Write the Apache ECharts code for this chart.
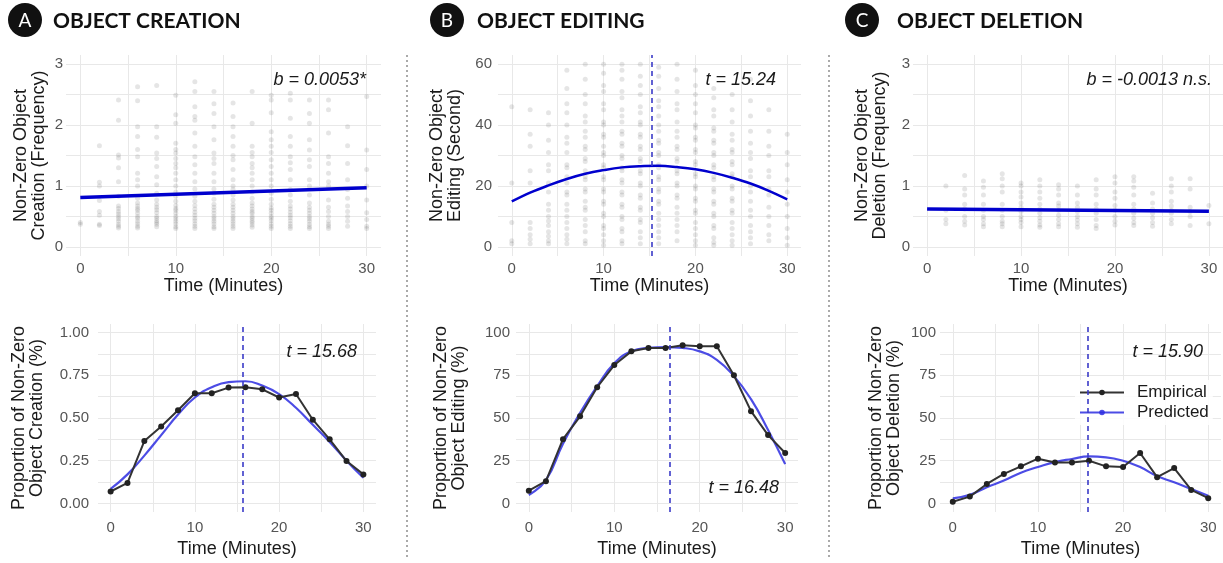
<!DOCTYPE html>
<html>
<head>
<meta charset="utf-8">
<script src="https://cdn.jsdelivr.net/npm/echarts@6/dist/echarts.min.js"></script>
<style>
html, body { margin: 0; padding: 0; background: #fff; }
#chart { width: 1223px; height: 563px; }
</style>
</head>
<body>
<div id="chart"></div>
<script>
// time points (minutes)
const times = [0, 2, 4, 6, 8, 10, 12, 14, 16, 18, 20, 22, 24, 26, 28, 30];

// top row: non-zero observations, one list per time point
const creationDots = [
  [0.37, 0.4],
  [1.66, 1.06, 1.0, 0.76, 0.58, 0.52, 0.37, 0.35],
  [2.41, 2.08, 1.51, 1.46, 1.3, 1.07, 0.83, 0.67, 0.63, 0.58, 0.54, 0.5, 0.46, 0.42, 0.37, 0.34, 0.31],
  [2.63, 2.4, 1.97, 1.81, 1.6, 1.48, 1.21, 1.1, 1.0, 0.8, 0.72, 0.67, 0.63, 0.6, 0.55, 0.5, 0.47, 0.42, 0.38, 0.34, 0.31],
  [2.65, 1.97, 1.8, 1.54, 1.45, 1.32, 1.15, 1.02, 0.88, 0.77, 0.7, 0.65, 0.61, 0.56, 0.5, 0.47, 0.43, 0.4, 0.37, 0.33],
  [2.49, 2.17, 2.03, 1.7, 1.6, 1.54, 1.45, 1.37, 1.3, 1.21, 1.1, 1.0, 0.9, 0.83, 0.75, 0.68, 0.63, 0.6, 0.55, 0.5, 0.46, 0.42, 0.38, 0.33, 0.3],
  [2.71, 2.55, 2.3, 2.14, 2.08, 1.87, 1.65, 1.48, 1.35, 1.21, 1.07, 0.95, 0.83, 0.75, 0.68, 0.62, 0.57, 0.52, 0.47, 0.43, 0.38, 0.34, 0.3],
  [2.55, 2.35, 2.19, 1.97, 1.76, 1.54, 1.45, 1.37, 1.21, 1.07, 0.95, 0.88, 0.78, 0.7, 0.65, 0.6, 0.55, 0.5, 0.46, 0.42, 0.38, 0.33, 0.3],
  [2.36, 2.14, 1.97, 1.81, 1.65, 1.5, 1.43, 1.27, 1.1, 1.0, 0.94, 0.85, 0.77, 0.7, 0.65, 0.6, 0.55, 0.5, 0.46, 0.42, 0.38, 0.34, 0.3],
  [2.55, 2.03, 1.65, 1.55, 1.48, 1.37, 1.3, 1.21, 1.1, 1.0, 0.9, 0.8, 0.72, 0.67, 0.62, 0.58, 0.55, 0.5, 0.47, 0.43, 0.4, 0.36, 0.32],
  [2.49, 2.41, 2.2, 1.89, 1.76, 1.65, 1.55, 1.43, 1.32, 1.21, 1.1, 1.0, 0.88, 0.78, 0.7, 0.64, 0.6, 0.55, 0.5, 0.47, 0.43, 0.38, 0.34, 0.3],
  [2.52, 2.41, 2.11, 1.81, 1.65, 1.48, 1.38, 1.27, 1.1, 0.94, 0.85, 0.75, 0.67, 0.62, 0.57, 0.52, 0.48, 0.43, 0.38, 0.34, 0.3],
  [2.41, 2.19, 2.03, 1.76, 1.59, 1.43, 1.32, 1.1, 1.0, 0.85, 0.72, 0.65, 0.6, 0.55, 0.5, 0.46, 0.42, 0.37, 0.33, 0.3],
  [2.41, 2.25, 1.87, 1.48, 1.37, 1.21, 1.07, 1.0, 0.77, 0.65, 0.58, 0.5, 0.42, 0.37, 0.34, 0.3],
  [1.97, 1.66, 1.37, 1.1, 0.94, 0.8, 0.67, 0.58, 0.5, 0.42, 0.34],
  [2.47, 1.59, 1.27, 1.0, 0.77, 0.56, 0.45, 0.34, 0.3]
];
const editingDots = [
  [46, 21, 8, 2, 1],
  [45, 37, 33, 25, 21, 8, 6, 4, 2.5, 1],
  [44, 40, 35, 31, 27, 25, 21, 18, 14, 12, 10, 8.5, 7, 5, 3.5, 2, 1],
  [58, 52, 47, 44, 40, 36, 34, 31, 27, 26, 23, 21, 18, 17, 14, 12, 10, 8, 6, 4, 2.5, 1],
  [60, 55, 50, 47, 43, 41, 38, 36, 33, 32, 29, 28, 25, 23, 22, 19, 18, 15, 13, 12, 9, 7, 5, 2, 1],
  [60, 57, 53, 51, 47, 45, 41, 40, 37, 36, 33, 31, 30, 27, 26, 23, 22, 19, 18, 15, 14, 11, 10, 7, 6, 4, 2, 0.5],
  [60, 58, 55, 51, 49, 45, 43, 41, 38, 37, 34, 33, 30, 29, 26, 25, 22, 21, 18, 17, 14, 13, 10, 9, 6, 5, 2, 1],
  [60, 56, 53, 50, 46, 44, 41, 40, 37, 36, 33, 32, 29, 28, 25, 24, 21, 20, 17, 16, 13, 12, 9, 8, 5, 3, 1],
  [59, 56, 52, 48, 46, 43, 40, 38, 35, 34, 31, 30, 27, 26, 23, 22, 19, 18, 15, 14, 11, 9, 7, 5, 3, 1],
  [60, 55, 51, 47, 45, 41, 38, 36, 33, 32, 29, 28, 25, 24, 21, 20, 17, 16, 13, 11, 9, 7, 5, 2],
  [58, 53, 50, 47, 44, 40, 39, 36, 35, 32, 31, 28, 27, 24, 23, 20, 19, 16, 15, 12, 11, 8, 6, 4, 2, 0.5],
  [52, 49, 45, 43, 39, 38, 35, 34, 31, 30, 27, 26, 23, 22, 19, 18, 15, 14, 11, 10, 7, 6, 3, 1.5, 0.5],
  [50, 45, 41, 37, 35, 32, 31, 28, 27, 24, 23, 20, 19, 16, 15, 12, 11, 8, 6, 4, 2, 0.5],
  [55, 48, 43, 38, 34, 31, 29, 25, 23, 20, 18, 15, 12, 10, 7, 5, 3, 1],
  [45, 38, 33, 30, 25, 23, 19, 17, 13, 10, 7, 4, 2],
  [37, 31, 27, 22, 18, 14, 10, 6, 3, 0.5]
];
const deletionDots = [
  [],
  [1.0, 0.6, 0.45, 0.38],
  [1.17, 0.95, 0.85, 0.7, 0.62, 0.5, 0.42, 0.36],
  [1.08, 0.98, 0.85, 0.7, 0.6, 0.5, 0.45, 0.38, 0.33],
  [1.2, 1.12, 1.0, 0.9, 0.7, 0.6, 0.5, 0.42, 0.38, 0.33],
  [1.05, 1.0, 0.9, 0.82, 0.72, 0.65, 0.58, 0.5, 0.45, 0.4, 0.33],
  [1.1, 1.0, 0.9, 0.8, 0.7, 0.62, 0.55, 0.48, 0.42, 0.36, 0.32],
  [1.02, 0.95, 0.85, 0.72, 0.67, 0.6, 0.52, 0.45, 0.38, 0.33],
  [1.0, 0.85, 0.72, 0.65, 0.58, 0.5, 0.44, 0.38, 0.32],
  [1.1, 0.95, 0.85, 0.7, 0.62, 0.55, 0.45, 0.35, 0.3],
  [1.15, 1.05, 0.9, 0.8, 0.68, 0.6, 0.5, 0.42, 0.36],
  [1.15, 1.08, 0.98, 0.85, 0.7, 0.62, 0.55, 0.47, 0.4, 0.35],
  [0.88, 0.72, 0.62, 0.55, 0.48, 0.4, 0.34],
  [1.12, 1.0, 0.9, 0.75, 0.67, 0.6, 0.55, 0.45, 0.38],
  [1.12, 0.95, 0.65, 0.58, 0.5, 0.35],
  [0.68, 0.38]
];

// top row: fitted models
const fitEnds = [0, 30];
const creationFit = [0.81, 0.97];
const deletionFit = [0.62, 0.585];
const editingFit = [14.9, 17.8, 20.2, 22.3, 24.0, 25.2, 26.1, 26.5, 26.6, 26.2, 25.5, 24.3, 22.7, 20.8, 18.4, 15.6];

// bottom row: proportion of non-zero
const creationEmp = [0.07, 0.12, 0.365, 0.45, 0.545, 0.645, 0.645, 0.678, 0.68, 0.668, 0.62, 0.64, 0.49, 0.375, 0.248, 0.17];
const creationPred = [0.085, 0.17, 0.28, 0.4, 0.52, 0.62, 0.68, 0.71, 0.715, 0.69, 0.64, 0.56, 0.46, 0.36, 0.25, 0.15];
const editingEmp = [7.5, 13, 37.6, 51, 68, 81, 89, 91, 91, 92.5, 92, 92, 75, 54, 40, 29.5];
const editingPred = [5, 13.7, 35, 53, 68.6, 82, 89, 91, 91.5, 91, 89, 84, 74.5, 61, 43, 23];
const deletionEmp = [1, 4, 11.4, 17.3, 21.7, 26.2, 24, 24, 25, 21.7, 21.3, 29.5, 15.4, 20.7, 7.9, 3.1];
const deletionPred = [3, 5, 9.5, 13.4, 18, 21.3, 24.2, 26, 27.5, 27, 25, 21.3, 16, 12.4, 8.5, 4.5];

// turning points (dashed lines)
const editingTopPeak = 15.24;
const bottomPeaks = [15.68, 16.48, 15.90];

// ticks
const xTicks = [0, 5, 10, 15, 20, 25, 30];
const xLabels = [0, 10, 20, 30];
const freqTicks = [0, 0.5, 1, 1.5, 2, 2.5, 3];
const freqLabels = [0, 1, 2, 3];
const secTicks = [0, 10, 20, 30, 40, 50, 60];
const secLabels = [0, 20, 40, 60];
const propTicks = [0, 0.125, 0.25, 0.375, 0.5, 0.625, 0.75, 0.875, 1];
const propLabels = [0, 0.25, 0.5, 0.75, 1];
const pctTicks = [0, 12.5, 25, 37.5, 50, 62.5, 75, 87.5, 100];
const pctLabels = [0, 25, 50, 75, 100];

const letters = ['A', 'B', 'C'];
const titles = ['OBJECT CREATION', 'OBJECT EDITING', 'OBJECT DELETION'];
const statTexts = ['b = 0.0053*', 't = 15.24', 'b = -0.0013 n.s.', 't = 15.68', 't = 16.48', 't = 15.90'];

const FONT = '"Liberation Sans", Arial, sans-serif';
const GRID_COLOR = '#e8e8e8';
const FIT_BLUE = '#0000cd';
const PRED_BLUE = 'rgba(45,45,225,0.85)';
const DASH_BLUE = '#3b3bc8';

function dots(list) {
  const out = [];
  list.forEach((vals, i) => vals.forEach(v => out.push([times[i], v])));
  return out;
}
function pairs(xs, ys) {
  return xs.map((x, i) => [x, ys[i]]);
}

function xAxis(i, top) {
  return {
    type: 'value', gridIndex: i, min: -1.5, max: 31.5,
    name: 'Time (Minutes)', nameLocation: 'middle', nameGap: top ? 20 : 28,
    nameTextStyle: { fontSize: 18, color: '#1a1a1a', fontFamily: FONT },
    axisLine: { show: false },
    axisTick: { show: false, customValues: xTicks },
    axisLabel: { customValues: xLabels, margin: top ? 5 : 8, fontSize: 15, color: '#555', fontFamily: FONT },
    splitLine: { show: true, lineStyle: { color: GRID_COLOR, width: 1 } }
  };
}
function yAxis(i, name, min, max, ticks, labels, gap, margin, fmt) {
  return {
    type: 'value', gridIndex: i, min: min, max: max,
    name: name, nameLocation: 'middle', nameGap: gap, nameRotate: 90,
    nameTextStyle: { fontSize: 18, lineHeight: 18, color: '#1a1a1a', fontFamily: FONT },
    axisLine: { show: false },
    axisTick: { show: false, customValues: ticks },
    axisLabel: { customValues: labels, margin: margin, fontSize: 15, color: '#555', fontFamily: FONT, formatter: fmt },
    splitLine: { show: true, lineStyle: { color: GRID_COLOR, width: 1 } }
  };
}
function dashAt(x) {
  return {
    symbol: ['none', 'none'], silent: true, label: { show: false },
    lineStyle: { type: [5, 4], color: DASH_BLUE, width: 1.6 },
    data: [{ xAxis: x }]
  };
}
function scatter(i, list) {
  return {
    type: 'scatter', xAxisIndex: i, yAxisIndex: i, data: dots(list), silent: true,
    symbolSize: 5, itemStyle: { color: 'rgba(60,60,60,0.17)' }
  };
}
function emp(i, ys) {
  return {
    name: 'Empirical', type: 'line', xAxisIndex: i, yAxisIndex: i, data: pairs(times, ys),
    symbol: 'circle', symbolSize: 6, z: 4,
    itemStyle: { color: '#222' }, lineStyle: { color: '#333', width: 2 }
  };
}
function pred(i, ys, peak) {
  return {
    name: 'Predicted', type: 'line', xAxisIndex: i, yAxisIndex: i, data: pairs(times, ys),
    smooth: 0.5, symbol: 'circle', symbolSize: 6, showSymbol: false, z: 3,
    itemStyle: { color: PRED_BLUE }, lineStyle: { color: PRED_BLUE, width: 2.2 },
    markLine: dashAt(peak)
  };
}

const graphic = [];
const circleX = [25, 447, 862];
const titleX = [53, 477, 897];
letters.forEach((l, i) => {
  graphic.push({ type: 'circle', shape: { cx: circleX[i], cy: 20, r: 17 }, style: { fill: '#111' } });
  graphic.push({ type: 'text', x: circleX[i], y: 21, style: { text: l, fill: '#fff', font: '19px Lato, sans-serif', align: 'center', verticalAlign: 'middle' } });
  graphic.push({ type: 'text', x: titleX[i], y: 21, style: { text: titles[i], fill: '#111', font: 'bold 21px Lato, sans-serif', align: 'left', verticalAlign: 'middle' } });
});
[407, 829].forEach(x => {
  graphic.push({ type: 'line', shape: { x1: x, y1: 55, x2: x, y2: 558 }, style: { stroke: '#aaa', lineWidth: 2, lineDash: [2, 3] } });
});
const statPos = [[366, 80], [776, 80], [1212, 80], [357, 352], [779, 488], [1203, 352]];
statTexts.forEach((t, i) => {
  graphic.push({ type: 'text', x: statPos[i][0], y: statPos[i][1], z: 10, style: { text: t, fill: '#1a1a1a', font: 'italic 18px ' + FONT, align: 'right', verticalAlign: 'middle' } });
});

const option = {
  animation: false,
  backgroundColor: '#fff',
  grid: [
    { left: 66, top: 55, width: 315, height: 201, outerBoundsMode: 'none' },
    { left: 498, top: 55, width: 303, height: 201, outerBoundsMode: 'none' },
    { left: 913, top: 55, width: 310, height: 201, outerBoundsMode: 'none' },
    { left: 98, top: 324, width: 278, height: 188, outerBoundsMode: 'none' },
    { left: 516, top: 324, width: 282, height: 188, outerBoundsMode: 'none' },
    { left: 940, top: 324, width: 281, height: 188, outerBoundsMode: 'none' }
  ],
  xAxis: [xAxis(0, true), xAxis(1, true), xAxis(2, true), xAxis(3, false), xAxis(4, false), xAxis(5, false)],
  yAxis: [
    yAxis(0, 'Non-Zero Object\nCreation (Frequency)', -0.15, 3.15, freqTicks, freqLabels, 18, 3),
    yAxis(1, 'Non-Zero Object\nEditing (Second)', -3, 63, secTicks, secLabels, 34, 6),
    yAxis(2, 'Non-Zero Object\nDeletion (Frequency)', -0.15, 3.15, freqTicks, freqLabels, 24, 3),
    yAxis(3, 'Proportion of Non-Zero\nObject Creation (%)', -0.05, 1.05, propTicks, propLabels, 52, 9, v => v.toFixed(2)),
    yAxis(4, 'Proportion of Non-Zero\nObject Editing (%)', -5, 105, pctTicks, pctLabels, 48, 6),
    yAxis(5, 'Proportion of Non-Zero\nObject Deletion (%)', -5, 105, pctTicks, pctLabels, 37, 4)
  ],
  legend: {
    data: ['Empirical', 'Predicted'], orient: 'vertical', left: 1075, top: 380,
    itemWidth: 44, itemHeight: 7, itemGap: 3, selectedMode: false,
    backgroundColor: 'rgba(255,255,255,0.85)', padding: [4, 4, 4, 4],
    textStyle: { fontSize: 17, color: '#1a1a1a', fontFamily: FONT, padding: [0, 0, 0, 8] }
  },
  graphic: graphic,
  series: [
    scatter(0, creationDots),
    scatter(1, editingDots),
    scatter(2, deletionDots),
    { type: 'line', xAxisIndex: 0, yAxisIndex: 0, data: pairs(fitEnds, creationFit), symbol: 'none', silent: true,
      lineStyle: { color: FIT_BLUE, width: 3.5 } },
    { type: 'line', xAxisIndex: 1, yAxisIndex: 1, data: pairs(times, editingFit), symbol: 'none', smooth: 0.4, silent: true,
      lineStyle: { color: FIT_BLUE, width: 2.5 }, markLine: dashAt(editingTopPeak) },
    { type: 'line', xAxisIndex: 2, yAxisIndex: 2, data: pairs(fitEnds, deletionFit), symbol: 'none', silent: true,
      lineStyle: { color: FIT_BLUE, width: 3.5 } },
    pred(3, creationPred, bottomPeaks[0]),
    emp(3, creationEmp),
    pred(4, editingPred, bottomPeaks[1]),
    emp(4, editingEmp),
    pred(5, deletionPred, bottomPeaks[2]),
    emp(5, deletionEmp)
  ]
};

const chart = echarts.init(document.getElementById('chart'));
chart.setOption(option);
</script>
</body>
</html>
